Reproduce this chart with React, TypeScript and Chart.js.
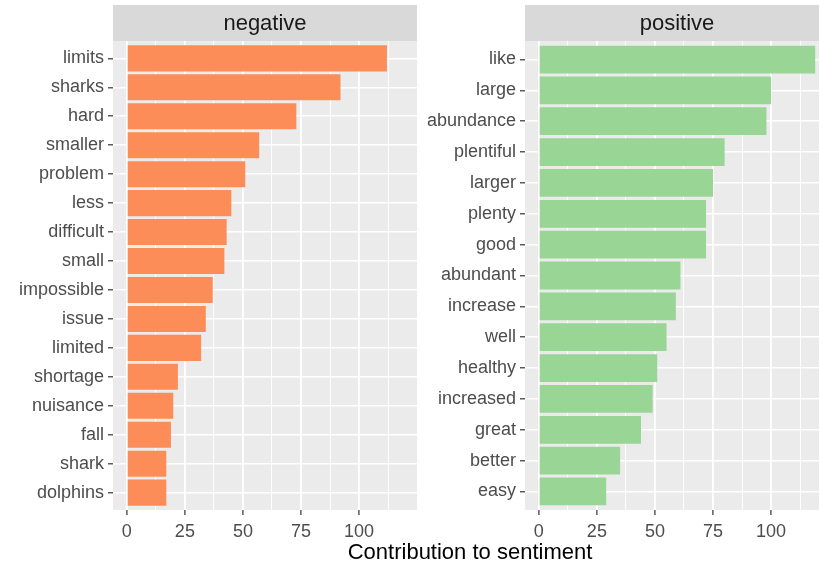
import React, { useEffect, useRef } from "react";
import { Chart, registerables } from "chart.js";

Chart.register(...registerables);

const negWords = ["limits", "sharks", "hard", "smaller", "problem", "less", "difficult", "small", "impossible", "issue", "limited", "shortage", "nuisance", "fall", "shark", "dolphins"];
const negValues = [112, 92, 73, 57, 51, 45, 43, 42, 37, 34, 32, 22, 20, 19, 17, 17];
const posWords = ["like", "large", "abundance", "plentiful", "larger", "plenty", "good", "abundant", "increase", "well", "healthy", "increased", "great", "better", "easy"];
const posValues = [119, 100, 98, 80, 75, 72, 72, 61, 59, 55, 51, 49, 44, 35, 29];
const xMajorTicks = [0, 25, 50, 75, 100];
const xMinorTicks = [12.5, 37.5, 62.5, 87.5, 112.5];
const facetLabels = ["negative", "positive"];
const xTitle = "Contribution to sentiment";

const negColor = "#FC8D59";
const posColor = "#99D594";
const FONT = '"Liberation Sans", Arial, sans-serif';

const maxVal = Math.max(...negValues, ...posValues);
const xMin = -0.05 * maxVal;
const xMax = 1.05 * maxVal;

const panelPlugin = {
  id: "panel",
  beforeDraw(chart: any, _args: any, opts: any) {
    const { ctx, chartArea: a } = chart;
    ctx.save();
    ctx.fillStyle = "#EBEBEB";
    ctx.fillRect(a.left, a.top, a.right - a.left, a.bottom - a.top);
    ctx.fillStyle = "#D9D9D9";
    ctx.fillRect(a.left, a.top - opts.stripHeight, a.right - a.left, opts.stripHeight);
    ctx.fillStyle = "#1A1A1A";
    ctx.font = `22px ${FONT}`;
    ctx.textAlign = "center";
    ctx.textBaseline = "middle";
    ctx.fillText(opts.label, (a.left + a.right) / 2, a.top - opts.stripHeight / 2 + 1);
    ctx.restore();
  },
};

type PanelProps = {
  words: string[];
  values: number[];
  color: string;
  label: string;
  width: number;
  axisWidth: number;
  left: number;
};

function Panel({ words, values, color, label, width, axisWidth, left }: PanelProps) {
  const ref = useRef<HTMLCanvasElement | null>(null);
  useEffect(() => {
    if (!ref.current) return;
    const n = words.length;
    const chart = new Chart(ref.current, {
      type: "bar",
      data: {
        datasets: [
          {
            data: values.map((v, i) => ({ x: v, y: i })),
            backgroundColor: color,
            borderWidth: 0,
            categoryPercentage: 1,
            barPercentage: 0.9,
          } as any,
        ],
      },
      plugins: [panelPlugin as any],
      options: {
        indexAxis: "y",
        responsive: false,
        animation: false,
        events: [],
        layout: { padding: { top: 41, right: 3, bottom: 0, left: 0 } },
        plugins: {
          legend: { display: false },
          tooltip: { enabled: false },
          panel: { label, stripHeight: 36 },
        } as any,
        scales: {
          x: {
            type: "linear",
            min: xMin,
            max: xMax,
            offset: false,
            afterBuildTicks: (s: any) => {
              s.ticks = [...xMajorTicks, ...xMinorTicks].sort((a, b) => a - b).map((v) => ({ value: v }));
            },
            afterFit: (s: any) => {
              s.height = 54;
            },
            ticks: {
              autoSkip: false,
              maxRotation: 0,
              color: "#4D4D4D",
              font: { size: 18, family: FONT },
              padding: 6,
              callback: (v: any) => (xMajorTicks.includes(v) ? String(v) : ""),
            },
            grid: {
              offset: false,
              color: "#FFFFFF",
              lineWidth: (c: any) => (c.tick && xMajorTicks.includes(c.tick.value) ? 1.8 : 0.9),
              tickColor: (c: any) => (c.tick && xMajorTicks.includes(c.tick.value) ? "#333333" : "rgba(0,0,0,0)"),
              tickLength: 5,
              tickWidth: 1.2,
            },
            border: { display: false },
          },
          y: {
            type: "linear",
            reverse: true,
            offset: false,
            min: -0.6,
            max: n - 1 + 0.6,
            afterBuildTicks: (s: any) => {
              s.ticks = words.map((_, i) => ({ value: i }));
            },
            afterFit: (s: any) => {
              s.width = axisWidth;
            },
            ticks: {
              autoSkip: false,
              color: "#4D4D4D",
              font: { size: 18, family: FONT },
              padding: 4,
              callback: (_v: any, i: number) => words[i],
            },
            grid: {
              offset: false,
              color: "#FFFFFF",
              lineWidth: 1.6,
              tickColor: "#333333",
              tickLength: 5,
              tickWidth: 1.2,
            },
            border: { display: false },
          },
        },
      } as any,
    });
    return () => chart.destroy();
  }, [words, values, color, label, axisWidth]);

  return (
    <canvas
      ref={ref}
      width={width}
      height={564}
      style={{ position: "absolute", left, top: 0, width, height: 564 }}
    />
  );
}

export default function App() {
  return (
    <div
      style={{
        position: "absolute",
        left: 0,
        top: 0,
        width: 819,
        height: 564,
        overflow: "hidden",
        background: "#FFFFFF",
      }}
    >
      <Panel words={negWords} values={negValues} color={negColor} label={facetLabels[0]} width={420} axisWidth={113} left={0} />
      <Panel words={posWords} values={posValues} color={posColor} label={facetLabels[1]} width={412} axisWidth={105} left={420} />
      <div
        style={{
          position: "absolute",
          left: 470,
          top: 541,
          transform: "translateX(-50%)",
          whiteSpace: "nowrap",
          font: `22px ${FONT}`,
          lineHeight: "22px",
          color: "#000000",
        }}
      >
        {xTitle}
      </div>
    </div>
  );
}
